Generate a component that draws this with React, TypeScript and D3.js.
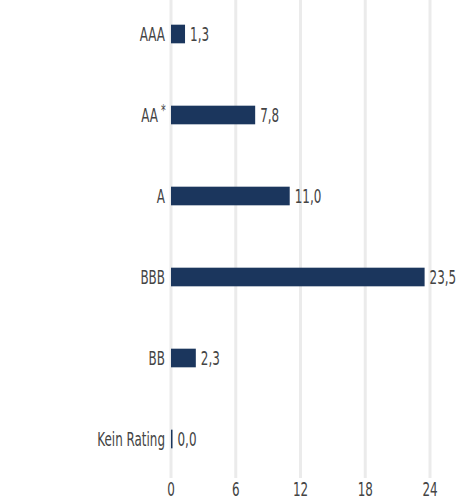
import { useEffect, useRef } from 'react';
import * as d3 from 'd3';

const categories = ['AAA', 'AA', 'A', 'BBB', 'BB', 'Kein Rating'];
const values = [1.3, 7.8, 11.0, 23.5, 2.3, 0.0];
const ticks = [0, 6, 12, 18, 24];

const width = 460;
const height = 501;
const font = '"DejaVu Sans Condensed", "DejaVu Sans", sans-serif';
const squeeze = 0.7; // the original face is a narrow condensed font

export default function App() {
  const svgRef = useRef<SVGSVGElement>(null);

  useEffect(() => {
    if (!svgRef.current) return;
    const svg = d3.select(svgRef.current);
    svg.selectAll('*').remove();

    const x = d3.scaleLinear().domain([0, 24]).range([171, 430]);
    const y = d3.scaleBand().domain(categories).range([-6.5, 479.5]).paddingInner(0.77).paddingOuter(0.385);
    const mid = (c: string) => y(c)! + y.bandwidth() / 2;

    // gridlines
    svg.append('g')
      .selectAll('line')
      .data(ticks)
      .enter()
      .append('line')
      .attr('x1', d => x(d))
      .attr('x2', d => x(d))
      .attr('y1', 0)
      .attr('y2', 478)
      .attr('stroke', '#ebebeb')
      .attr('stroke-width', 3);

    // tick labels
    svg.append('g')
      .selectAll('text')
      .data(ticks)
      .enter()
      .append('text')
      .attr('transform', d => `translate(${x(d)},496) scale(${squeeze},1)`)
      .attr('text-anchor', 'middle')
      .attr('font-family', font)
      .attr('font-size', 19)
      .attr('fill', '#444')
      .text(d => d);

    const rows = categories.map((c, i) => ({ c, v: values[i] }));

    // bars
    svg.append('g')
      .selectAll('rect')
      .data(rows)
      .enter()
      .append('rect')
      .attr('x', x(0))
      .attr('y', d => y(d.c)!)
      .attr('width', d => Math.max(x(d.v) - x(0), 1.5))
      .attr('height', y.bandwidth())
      .attr('fill', '#1b365d');

    // category labels
    const labels = svg.append('g')
      .selectAll('text')
      .data(rows)
      .enter()
      .append('text')
      .attr('transform', d => `translate(${d.c === 'AA' ? 158 : 165},${mid(d.c)}) scale(${squeeze},1)`)
      .attr('dy', '0.36em')
      .attr('text-anchor', 'end')
      .attr('font-family', font)
      .attr('font-size', 19)
      .attr('fill', '#444')
      .text(d => d.c);

    labels.filter(d => d.c === 'AA')
      .append('tspan')
      .attr('x', 11)
      .attr('dy', '-0.4em')
      .attr('font-size', 15)
      .text('*');

    // value labels
    svg.append('g')
      .selectAll('text')
      .data(rows)
      .enter()
      .append('text')
      .attr('transform', d => `translate(${Math.max(x(d.v) - x(0), 1.5) + x(0) + 5},${mid(d.c)}) scale(${squeeze},1)`)
      .attr('dy', '0.36em')
      .attr('font-family', font)
      .attr('font-size', 19)
      .attr('fill', '#444')
      .text(d => d.v.toFixed(1).replace('.', ','));
  }, []);

  return (
    <svg
      ref={svgRef}
      width={width}
      height={height}
      style={{ position: 'fixed', top: 0, left: 0, background: '#fff' }}
    />
  );
}
